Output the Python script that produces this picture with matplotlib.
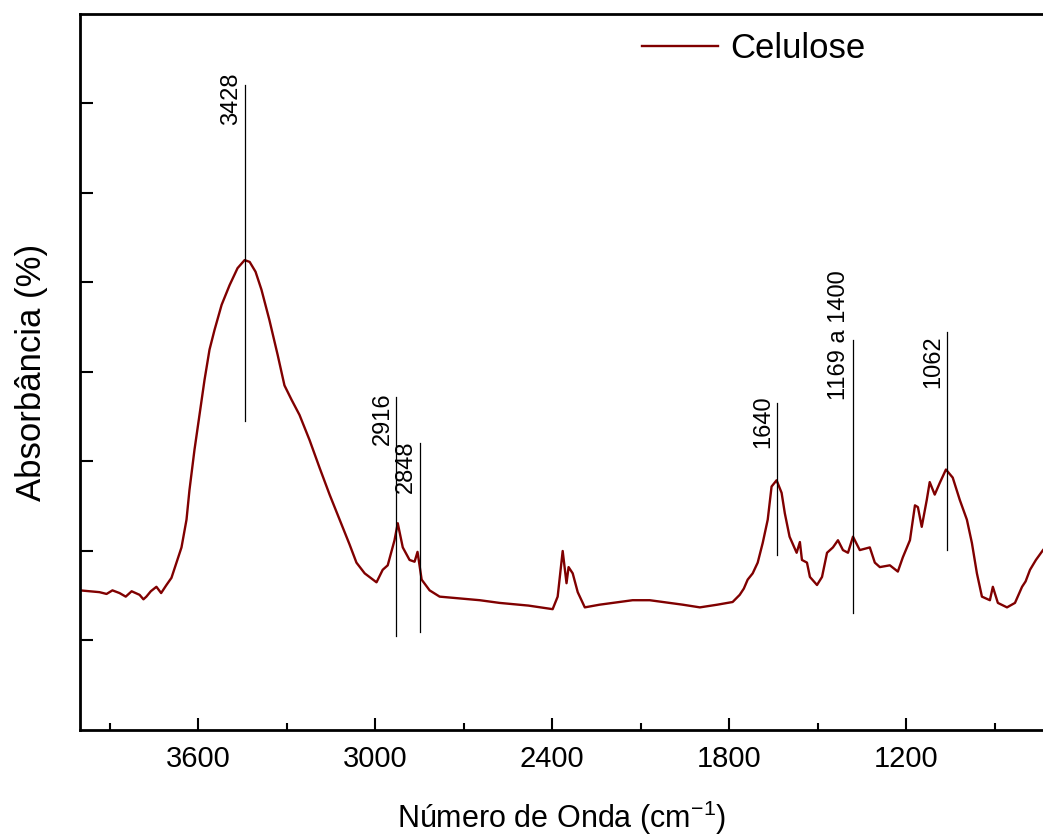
import numpy as np
import matplotlib
matplotlib.use("Agg")
import matplotlib.pyplot as plt

plt.rcParams['font.family'] = ['Liberation Sans', 'DejaVu Sans']

# espectro FTIR da celulose
wn = [4000, 3965, 3934, 3910, 3890, 3866, 3845, 3825, 3798, 3785, 3775, 3760, 3741, 3725,
      3707, 3690, 3673, 3656, 3639, 3629, 3612, 3595, 3578, 3561, 3544, 3520, 3493, 3466,
      3442, 3425, 3405, 3385, 3358, 3330, 3307, 3283, 3256, 3222, 3188, 3154, 3120, 3086,
      3063, 3035, 2995, 2974, 2957, 2934, 2923, 2906, 2883, 2866, 2856, 2842, 2815, 2781,
      2713, 2645, 2578, 2480, 2398, 2381, 2364, 2351, 2344, 2330, 2313, 2289, 2239, 2127,
      2069, 1957, 1899, 1840, 1788, 1764, 1750, 1737, 1720, 1703, 1686, 1669, 1656, 1639,
      1622, 1611, 1595, 1571, 1560, 1553, 1536, 1526, 1502, 1485, 1468, 1448, 1431, 1414,
      1397, 1380, 1357, 1323, 1306, 1289, 1255, 1228, 1211, 1187, 1170, 1160, 1147, 1130,
      1120, 1103, 1086, 1065, 1042, 1018, 994, 977, 960, 943, 916, 906, 889, 858, 831,
      807, 795, 780, 760, 736]
absorb = [1.56, 1.55, 1.54, 1.52, 1.56, 1.53, 1.49, 1.55, 1.51, 1.46, 1.49, 1.55, 1.60, 1.53,
          1.62, 1.70, 1.87, 2.04, 2.35, 2.68, 3.13, 3.52, 3.91, 4.25, 4.47, 4.75, 4.97, 5.16,
          5.25, 5.23, 5.12, 4.92, 4.58, 4.19, 3.85, 3.69, 3.52, 3.24, 2.93, 2.63, 2.35, 2.07,
          1.87, 1.75, 1.65, 1.79, 1.84, 2.12, 2.31, 2.04, 1.90, 1.88, 1.99, 1.68, 1.56, 1.49,
          1.47, 1.45, 1.42, 1.39, 1.35, 1.49, 2.00, 1.64, 1.82, 1.75, 1.54, 1.37, 1.40, 1.45,
          1.45, 1.40, 1.37, 1.40, 1.43, 1.51, 1.58, 1.68, 1.75, 1.87, 2.09, 2.35, 2.72, 2.79,
          2.65, 2.42, 2.16, 1.98, 2.10, 1.90, 1.87, 1.71, 1.62, 1.71, 1.98, 2.04, 2.12, 2.01,
          1.98, 2.16, 2.01, 2.04, 1.87, 1.82, 1.84, 1.77, 1.93, 2.12, 2.51, 2.49, 2.27, 2.57,
          2.77, 2.63, 2.76, 2.91, 2.82, 2.57, 2.35, 2.09, 1.75, 1.49, 1.45, 1.60, 1.42, 1.37,
          1.42, 1.60, 1.66, 1.79, 1.90, 2.01]

# marcações das bandas
band_pos = [3442, 2928, 2848, 1636, 1380, 1062]
band_txt = ['3428', '2916', '2848', '1640', '1169 a 1400', '1062']
band_top = [7.21, 3.72, 3.21, 3.65, 4.36, 4.45]
band_bot = [3.45, 1.05, 1.09, 1.96, 1.31, 2.01]
label_top = [7.35, 3.77, 3.24, 3.74, 5.14, 4.41]

fig = plt.figure(figsize=(10.43, 8.36), dpi=100)
ax = fig.add_axes([0.0767, 0.1268, 0.9233, 0.8565])

ax.plot(wn, absorb, color='#800000', lw=1.7, label='Celulose')

for x, t, yt, yb, ly in zip(band_pos, band_txt, band_top, band_bot, label_top):
    ax.plot([x, x], [yb, yt], color='k', lw=0.9)
    ax.annotate(t, xy=(x, ly), xytext=(-2, 0), textcoords='offset points',
                rotation=90, ha='right', va='top', fontsize=17)

ax.set_xlim(4000, 736)
ax.set_ylim(0, 8)
ax.set_xticks([3600, 3000, 2400, 1800, 1200])
ax.set_xticks([3900, 3300, 2700, 2100, 1500, 900], minor=True)
ax.set_yticks([1, 2, 3, 4, 5, 6, 7])
ax.set_yticklabels([])
ax.tick_params(axis='both', which='major', direction='in', length=9, width=1.5, labelsize=21, pad=11)
ax.tick_params(axis='x', which='minor', direction='in', length=5, width=1.5)
ax.spines['right'].set_visible(False)
for s in ['left', 'top', 'bottom']:
    ax.spines[s].set_linewidth(2)

ax.set_xlabel('Número de Onda (cm$^{\\mathregular{-1}}$)', fontsize=22, labelpad=18)
ax.set_ylabel('Absorbância (%)', fontsize=25, labelpad=12)

ax.legend(loc='upper right', bbox_to_anchor=(0.848, 1.018), frameon=False, fontsize=25,
          handlelength=2.2, handletextpad=0.35)

fig.savefig('out.png', dpi=100)
